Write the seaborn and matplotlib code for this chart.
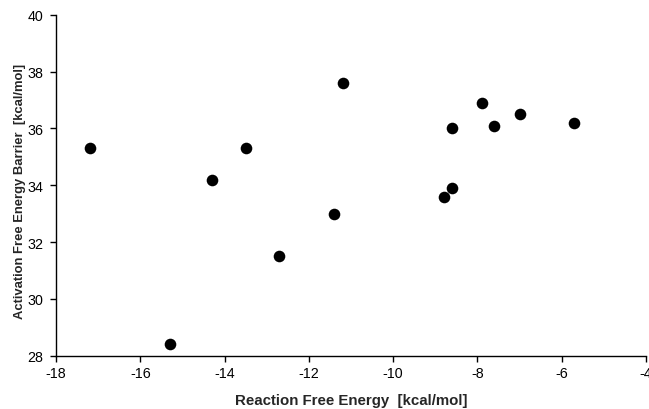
import numpy as np
import pandas as pd
import matplotlib
matplotlib.use('Agg')
import matplotlib.pyplot as plt
import seaborn as sns

# reaction free energy vs activation barrier (kcal/mol)
reaction_dg = [-17.2, -15.3, -14.3, -13.5, -12.7, -11.4, -11.2,
               -8.8, -8.6, -8.6, -7.9, -7.6, -7.0, -5.7]
barrier_dg = [35.3, 28.4, 34.2, 35.3, 31.5, 33.0, 37.6,
              33.6, 33.9, 36.0, 36.9, 36.1, 36.5, 36.2]

x_ticks = [-18, -16, -14, -12, -10, -8, -6, -4]
y_ticks = [28, 30, 32, 34, 36, 38, 40]

df = pd.DataFrame({'dG': reaction_dg, 'barrier': barrier_dg})

sns.set_style('ticks')
plt.rcParams['font.family'] = ['Liberation Sans', 'DejaVu Sans']
plt.rcParams['axes.unicode_minus'] = False

fig = plt.figure(figsize=(6.49, 4.10), dpi=100)
ax = fig.add_axes([0.0863, 0.130, 0.9091, 0.8317])

sns.scatterplot(data=df, x='dG', y='barrier', ax=ax,
                color='black', s=70, edgecolor='black', linewidth=0)

ax.set_xlim(-18, -4)
ax.set_ylim(28, 40)
ax.set_xticks(x_ticks)
ax.set_yticks(y_ticks)
ax.tick_params(labelsize=10.3, length=4, width=1, colors='black', direction='out')
ax.tick_params(axis='y', pad=5)

ax.set_xlabel('Reaction Free Energy  [kcal/mol]', fontsize=10.8, fontweight='bold', labelpad=9)
ax.set_ylabel('Activation Free Energy Barrier  [kcal/mol]', fontsize=9.4, fontweight='bold')
ax.yaxis.set_label_coords(-0.051, 0.485)

# only left and bottom spines
sns.despine(ax=ax)
for side in ['left', 'bottom']:
    ax.spines[side].set_color('black')
    ax.spines[side].set_linewidth(1.0)

fig.savefig('out.png', dpi=100)
